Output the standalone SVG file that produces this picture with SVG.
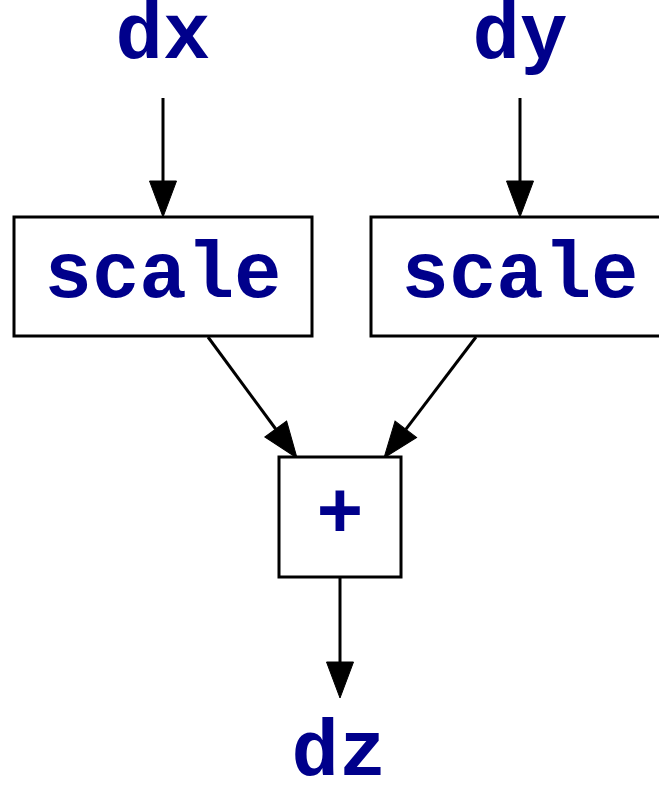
<svg xmlns="http://www.w3.org/2000/svg" width="659" height="785" viewBox="0 0 659 785">
  <style>
    .lbl { font-family: "Liberation Mono", "Courier New", monospace; font-weight: bold; font-size: 79px; fill: #00008b; text-anchor: middle; }
    .box { fill: #ffffff; stroke: #000000; stroke-width: 3; }
    .edge { fill: none; stroke: #000000; stroke-width: 3; }
  </style>
  <defs>
    <marker id="arrow" markerUnits="userSpaceOnUse" markerWidth="40" markerHeight="30" refX="0" refY="13.5" orient="auto" overflow="visible">
      <path d="M0,0 L36,13.5 L0,27 Z" fill="#000000" stroke="#000000" stroke-width="1"/>
    </marker>
  </defs>

  <!-- connectors -->
  <g id="edges">
    <line class="edge" x1="163" y1="98" x2="163" y2="181" marker-end="url(#arrow)"/>
    <line class="edge" x1="520" y1="98" x2="520" y2="181" marker-end="url(#arrow)"/>
    <line class="edge" x1="208" y1="337" x2="275.7" y2="429" marker-end="url(#arrow)"/>
    <line class="edge" x1="476" y1="337" x2="405.8" y2="429.3" marker-end="url(#arrow)"/>
    <line class="edge" x1="340" y1="577" x2="340" y2="662" marker-end="url(#arrow)"/>
  </g>

  <g id="dx">
    <text class="lbl" x="163" y="58">dx</text>
  </g>
  <g id="dy">
    <text class="lbl" x="520" y="58">dy</text>
  </g>
  <g id="scale_x">
    <rect class="box" x="14" y="217" width="298" height="119"/>
    <text class="lbl" x="163" y="297">scale</text>
  </g>
  <g id="scale_y">
    <rect class="box" x="371" y="217" width="298" height="119"/>
    <text class="lbl" x="520" y="297">scale</text>
  </g>
  <g id="add">
    <rect class="box" x="279" y="457" width="122" height="120"/>
    <text class="lbl" x="340" y="537">+</text>
  </g>
  <g id="dz">
    <text class="lbl" x="339" y="775">dz</text>
  </g>
</svg>
